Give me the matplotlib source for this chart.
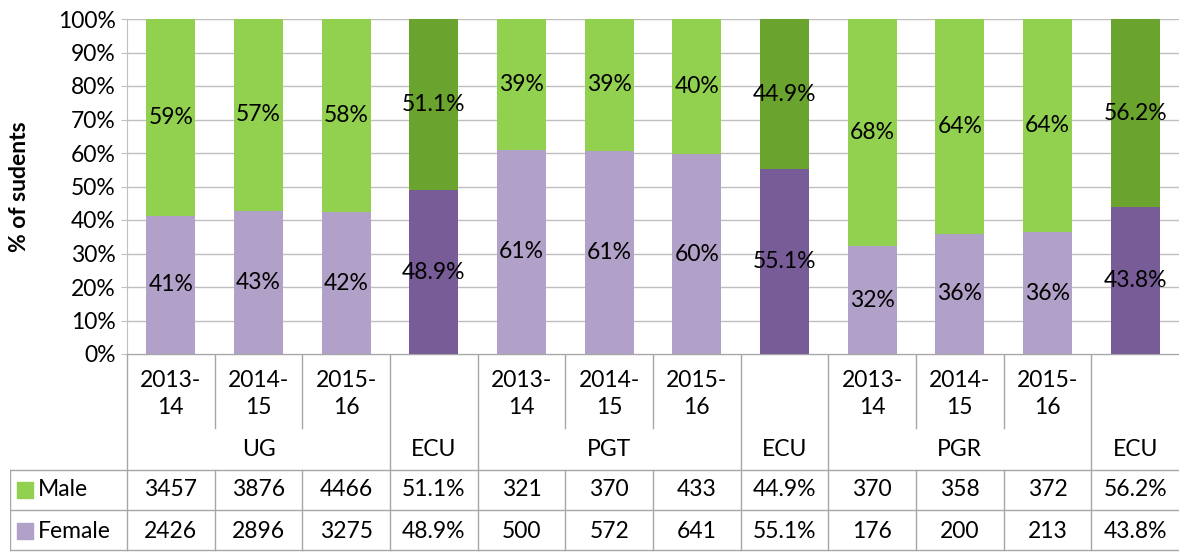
import matplotlib.pyplot as plt
import numpy as np

plt.rcParams['font.family'] = ['Lato', 'DejaVu Sans']

years = ['2013-\n14', '2014-\n15', '2015-\n16', '']
groups = ['UG', 'PGT', 'PGR']
male = [3457, 3876, 4466, 321, 370, 433, 370, 358, 372]
female = [2426, 2896, 3275, 500, 572, 641, 176, 200, 213]
ecu_male = [51.1, 44.9, 56.2]
ecu_female = [48.9, 55.1, 43.8]

light_green = '#92D050'
dark_green = '#6AA42E'
light_purple = '#B1A0C7'
dark_purple = '#785C98'
grid_col = '#BFBFBF'
line_col = '#A6A6A6'
fs = 16.5

# build the 12 columns: 3 years + ECU per group
fem_pct, mal_pct, fem_txt, mal_txt, is_ecu = [], [], [], [], []
male_cells, female_cells, cat_labels = [], [], []
for g in range(3):
    for j in range(3):
        i = g * 3 + j
        tot = male[i] + female[i]
        f = female[i] / tot * 100
        fem_pct.append(f)
        mal_pct.append(100 - f)
        fem_txt.append('%d%%' % round(f))
        mal_txt.append('%d%%' % round(100 - f))
        is_ecu.append(False)
        male_cells.append(str(male[i]))
        female_cells.append(str(female[i]))
        cat_labels.append(years[j])
    fem_pct.append(ecu_female[g])
    mal_pct.append(ecu_male[g])
    fem_txt.append('%.1f%%' % ecu_female[g])
    mal_txt.append('%.1f%%' % ecu_male[g])
    is_ecu.append(True)
    male_cells.append('%.1f%%' % ecu_male[g])
    female_cells.append('%.1f%%' % ecu_female[g])
    cat_labels.append('')

W, H = 1179, 552
fig = plt.figure(figsize=(W / 100, H / 100), dpi=100)

# chart axes
L, R, T, B = 127, 1179, 19, 354
ax = fig.add_axes([L / W, 1 - B / H, (R - L) / W, (B - T) / H])
x = np.arange(12)
fcol = [dark_purple if e else light_purple for e in is_ecu]
mcol = [dark_green if e else light_green for e in is_ecu]
ax.bar(x, fem_pct, width=0.56, color=fcol, zorder=3)
ax.bar(x, mal_pct, width=0.56, bottom=fem_pct, color=mcol, zorder=3)
for i in range(12):
    ax.text(x[i], fem_pct[i] / 2, fem_txt[i], ha='center', va='center', fontsize=fs, zorder=4)
    ax.text(x[i], fem_pct[i] + mal_pct[i] / 2, mal_txt[i], ha='center', va='center', fontsize=fs, zorder=4)
ax.set_xlim(-0.5, 11.5)
ax.set_ylim(0, 100)
ax.set_yticks(np.arange(0, 101, 10))
ax.set_yticklabels(['%d%%' % v for v in range(0, 101, 10)], fontsize=fs)
ax.set_xticks([])
ax.yaxis.grid(True, color=grid_col, lw=1, zorder=0)
ax.tick_params(axis='y', length=4, color=grid_col, pad=4)
for s in ['top', 'right', 'bottom']:
    ax.spines[s].set_visible(False)
ax.spines['left'].set_color(grid_col)
ax.set_ylabel('% of sudents', fontsize=fs, fontweight='bold')
ax.yaxis.set_label_coords((30 - L) / (R - L), 0.5)

# table below
cw = (R - L) / 12.0
tx0 = 10
tab = fig.add_axes([tx0 / W, 0, (R - tx0) / W, 1 - B / H])
tab.set_xlim(-0.5 - (L - tx0) / cw, 11.5)
tab.set_ylim(H, B)
tab.axis('off')
y_mid, y_rows, y_r2, y_end = 428, 470, 510, 550
kw = dict(color=line_col, lw=1)
tab.plot([-0.5, 11.5], [B, B], **kw)
tab.plot([-0.5, -0.5], [B, y_end], **kw)
for k in range(11):
    xb = k + 0.5
    if k % 4 in (2, 3):
        tab.plot([xb, xb], [B, y_end], **kw)
    else:
        tab.plot([xb, xb], [B, y_mid], **kw)
        tab.plot([xb, xb], [y_rows, y_end], **kw)
xl = -0.5 - (L - tx0) / cw
for yy in [y_rows, y_r2, y_end]:
    tab.plot([xl, 11.5], [yy, yy], **kw)
tab.plot([xl, xl], [y_rows, y_end], **kw)

for i in range(12):
    if cat_labels[i]:
        tab.text(i, 394, cat_labels[i], ha='center', va='center', fontsize=fs, linespacing=1.35)
    if is_ecu[i]:
        tab.text(i, 449, 'ECU', ha='center', va='center', fontsize=fs)
    tab.text(i, 490, male_cells[i], ha='center', va='center', fontsize=fs)
    tab.text(i, 531, female_cells[i], ha='center', va='center', fontsize=fs)
for g in range(3):
    tab.text(g * 4 + 1, 449, groups[g], ha='center', va='center', fontsize=fs)

# legend keys in the row header
tab.scatter([xl + 0.17], [490], marker='s', s=120, color=light_green)
tab.scatter([xl + 0.17], [531], marker='s', s=120, color=light_purple)
tab.text(xl + 0.32, 490, 'Male', ha='left', va='center', fontsize=fs)
tab.text(xl + 0.32, 531, 'Female', ha='left', va='center', fontsize=fs)

fig.savefig('out.png', dpi=100)
